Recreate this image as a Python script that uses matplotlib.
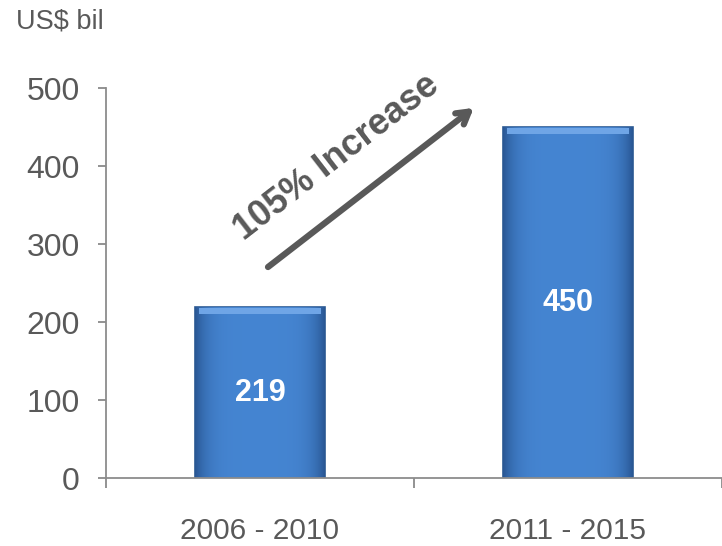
import matplotlib
matplotlib.use("Agg")
import matplotlib.pyplot as plt
import numpy as np

categories = ["2006 - 2010", "2011 - 2015"]
values = [219, 450]
yticks = [0, 100, 200, 300, 400, 500]
unit_label = "US$ bil"
annotation = "105% Increase"

font = "Liberation Sans"
gray = "#595959"
fig = plt.figure(figsize=(7.22, 5.46), dpi=100)
ax = fig.add_axes([0.1468, 0.1245, 0.8532, 0.7143])

x = np.arange(len(categories))
bars = ax.bar(x, values, width=0.42, color="#3F7DC9", edgecolor="#2C5A92", linewidth=1.2, zorder=2)

# gradient shading inside bars (darker toward the edges)
n = 200
pos = np.linspace(-1, 1, n)
img = np.zeros((100, n, 4))
base = np.array([0.27, 0.52, 0.82])
dark = np.array([0.16, 0.34, 0.58])
for i in range(n):
    t = abs(pos[i]) ** 5
    img[:, i, :3] = base * (1 - t) + dark * t
img[:, :, 3] = 1.0
for b in bars:
    x0, w, h = b.get_x(), b.get_width(), b.get_height()
    im = ax.imshow(img, extent=[x0, x0 + w, 0, h], aspect="auto", origin="upper", zorder=2.5)
    im.set_clip_path(b)
    ax.bar(x0 + w / 2, 8, bottom=h - 9, width=w * 0.94, color="#6FA5E6", linewidth=0, zorder=3)

for xi, v in zip(x, values):
    ax.text(xi, v / 2, str(v), ha="center", va="center", color="white",
            fontsize=22, fontweight="bold", family=font, zorder=4)

ax.set_xlim(-0.5, 1.5)
ax.set_ylim(0, 500)
ax.set_yticks(yticks)
ax.set_xticks(x)
ax.set_xticklabels(categories)
ax.set_xticks([-0.5, 0.5, 1.5], minor=True)
ax.tick_params(axis="x", which="major", length=0, pad=28, labelsize=21.5, labelcolor=gray)
ax.tick_params(axis="x", which="minor", length=7, width=1.2, color="#808080", direction="out")
ax.tick_params(axis="y", length=6, width=1.2, color="#808080", pad=13, labelsize=23, labelcolor=gray)
for lab in ax.get_xticklabels() + ax.get_yticklabels():
    lab.set_family(font)
for s in ["top", "right"]:
    ax.spines[s].set_visible(False)
for s in ["left", "bottom"]:
    ax.spines[s].set_color("#8C8C8C")
    ax.spines[s].set_linewidth(1.3)
ax.spines["bottom"].set_zorder(5)

ax.annotate("", xy=(0.597, 0.949), xytext=(0.263, 0.541), xycoords="axes fraction",
            arrowprops=dict(arrowstyle="->,head_length=0.85,head_width=0.5", color=gray, lw=4.5,
                            shrinkA=0, shrinkB=0))
ax.text(0.375, 0.823, annotation, transform=ax.transAxes, rotation=37.7, rotation_mode="anchor",
        ha="center", va="center", fontsize=26, fontweight="bold", color=gray, family=font)

fig.text(0.083, 0.96, unit_label, ha="center", va="center", fontsize=19.5, color=gray, family=font)

fig.savefig("out.png", dpi=100)
